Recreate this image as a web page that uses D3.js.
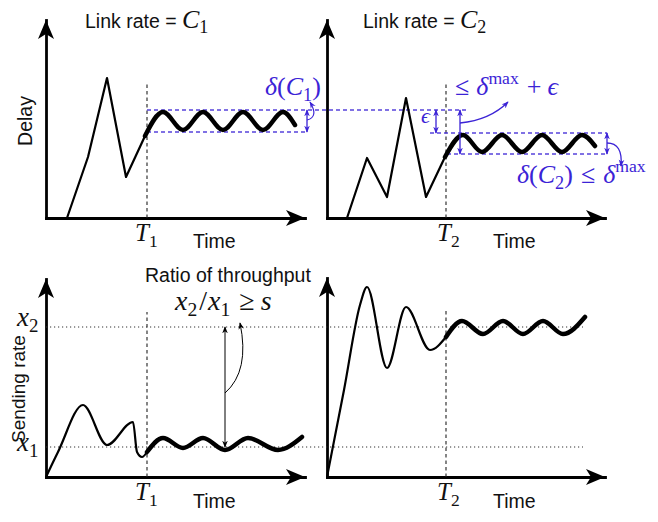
<!DOCTYPE html>
<html><head><meta charset="utf-8">
<script src="https://cdn.jsdelivr.net/npm/d3@7"></script>
<style>body{margin:0;background:#fff}svg{display:block}</style>
</head><body><svg id="c" width="658" height="522"></svg>
<script>
// ---- data (time units, value units) ----
const T1 = 10.1, T2 = 11.9;
const delayC1Transient = [[2.1,0],[4.2,6.1],[6.1,14.0],[8.0,4.1],[9.9,8.2]];
const delayC1Steady = [[9.9,8.2],[11.7,10.6],[13.7,8.8],[15.7,10.6],[17.7,8.8],[19.7,10.6],[21.7,8.8],[23.7,10.6],[24.9,9.3]];
const delayC2Transient = [[2.0,0],[4.0,6.0],[6.0,2.1],[7.9,12.0],[9.9,2.1],[11.8,6.1]];
const delayC2Steady = [[11.8,6.1],[13.6,8.3],[15.5,6.6],[17.5,8.3],[19.5,6.6],[21.5,8.3],[23.5,6.6],[25.5,8.3],[26.8,7.2]];
const rateC1Transient = [[0,0],[1.2,2.5],[3.7,7.2],[6.1,3.2],[8.7,5.5],[9.1,2.5],[9.6,2.0],[10.1,2.5]];
const rateC1Steady = [[10.1,2.5],[11.7,3.9],[13.7,2.9],[15.7,3.9],[17.9,2.7],[20.2,3.9],[23.2,2.7],[25.6,4.0]];
const rateC2Transient = [[0,0],[1.7,8.7],[3.3,17.2],[4.0,19.0],[6.0,10.9],[7.9,17.0],[10.3,12.7],[11.9,14.0]];
const rateC2Steady = [[11.9,14.0],[13.5,15.6],[15.6,14.3],[17.6,15.6],[19.6,14.3],[21.6,15.6],[23.6,14.3],[25.8,16.0]];
const bandC1 = [8.6, 10.8];     // delta(C1) band low/high
const bandC2 = [6.4, 8.5];      // delta(C2) band low/high
const x1Level = 3.0, x2Level = 15.0;
const axisLabels = {x: "Time", yTop: "Delay", yBottom: "Sending rate"};

// ---- layout ----
const BLUE = "#3b23d6";
const SANS = "'Liberation Sans', Arial, sans-serif";
const SERIF = "'Liberation Serif', 'Times New Roman', serif";
const layout = {
  tl: {ox: 46, oy: 218, xEnd: 305, yTip: 20},
  tr: {ox: 327, oy: 218, xEnd: 605, yTip: 20},
  bl: {ox: 46, oy: 477, xEnd: 305, yTip: 279},
  br: {ox: 327, oy: 477, xEnd: 605, yTip: 278}
};
const svg = d3.select("#c");
const defs = svg.append("defs");
function marker(id, color, size) {
  defs.append("marker").attr("id", id).attr("viewBox", "0 0 10 10")
    .attr("refX", 9).attr("refY", 5).attr("markerUnits", "userSpaceOnUse")
    .attr("markerWidth", size).attr("markerHeight", size)
    .attr("orient", "auto-start-reverse")
    .append("path").attr("d", "M0,1 L10,5 L0,9 L3,5 z").attr("fill", color);
}
marker("ab", BLUE, 7);
marker("ak", "#000", 7);

const S = {};
for (const k in layout) {
  const p = layout[k];
  S[k] = {
    x: d3.scaleLinear().domain([0, (p.xEnd - p.ox) / 10]).range([p.ox, p.xEnd]),
    y: d3.scaleLinear().domain([0, (p.oy - p.yTip) / 10]).range([p.oy, p.yTip])
  };
}

// axes
for (const k in layout) {
  const {x, y} = S[k];
  const g = svg.append("g");
  g.append("g").attr("transform", `translate(0,${y(0)})`)
    .call(d3.axisBottom(x).tickValues([]).tickSizeOuter(0));
  g.append("g").attr("transform", `translate(${x(0)},0)`)
    .call(d3.axisLeft(y).tickValues([]).tickSizeOuter(0));
  g.selectAll(".domain").attr("stroke", "#000").attr("stroke-width", 2.8).attr("stroke-linecap", "square");
  const xt = x.range()[1], yt = y.range()[1], X0 = x(0), Y0 = y(0);
  g.append("path").attr("d", `M${xt},${Y0} L${xt-19},${Y0-8} L${xt-14},${Y0} L${xt-19},${Y0+8} Z`).attr("fill", "#000");
  g.append("path").attr("d", `M${X0},${yt} L${X0-8},${yt+19} L${X0},${yt+14} L${X0+8},${yt+19} Z`).attr("fill", "#000");
}

function curve(k, data, type, w) {
  const {x, y} = S[k];
  svg.append("path").datum(data)
    .attr("d", d3.line().x(d => x(d[0])).y(d => y(d[1])).curve(type))
    .attr("fill", "none").attr("stroke", "#000").attr("stroke-width", w)
    .attr("stroke-linejoin", "round").attr("stroke-linecap", "round");
}
function seg(k, t0, v0, t1, v1, attrs) {
  const {x, y} = S[k];
  const l = svg.append("line").attr("x1", x(t0)).attr("y1", y(v0)).attr("x2", x(t1)).attr("y2", y(v1));
  for (const a in attrs) l.attr(a, attrs[a]);
  return l;
}
function qarrow(k, a, c, b, color, mk, w) {
  const {x, y} = S[k];
  const p = d3.path();
  p.moveTo(x(a[0]), y(a[1]));
  p.quadraticCurveTo(x(c[0]), y(c[1]), x(b[0]), y(b[1]));
  svg.append("path").attr("d", p.toString()).attr("fill", "none").attr("stroke", color)
    .attr("stroke-width", w).attr("marker-end", `url(#${mk})`);
}

const dashV = {stroke: "#222", "stroke-width": 1.1, "stroke-dasharray": "3.5,3"};
const dashB = {stroke: BLUE, "stroke-width": 1.3, "stroke-dasharray": "4,3", opacity: 0.85};
const dotK = {stroke: "#333", "stroke-width": 1.1, "stroke-dasharray": "1.2,2.8"};

// convergence verticals
seg("tl", T1, 0, T1, 13.6, dashV);
seg("tr", T2, 0, T2, 13.6, dashV);
seg("bl", T1, 0, T1, 16.5, dashV);
seg("br", T2, 0, T2, 16.9, dashV);

// dotted sending-rate reference lines
seg("bl", 0, x2Level, 53.7, x2Level, dotK);
seg("bl", 0, x1Level, 53.7, x1Level, dotK);

// blue bands
seg("tl", T1, bandC1[1], 42.1, bandC1[1], dashB);
seg("tl", T1, bandC1[0], 26.1, bandC1[0], dashB);
seg("tr", 10.3, bandC2[1], 28.0, bandC2[1], dashB);
seg("tr", 12.0, bandC2[0], 28.0, bandC2[0], dashB);

// curves
curve("tl", delayC1Transient, d3.curveLinear, 2.2);
curve("tl", delayC1Steady, d3.curveMonotoneX, 4.5);
curve("tr", delayC2Transient, d3.curveLinear, 2.2);
curve("tr", delayC2Steady, d3.curveMonotoneX, 4.5);
curve("bl", rateC1Transient, d3.curveMonotoneX, 2.2);
curve("bl", rateC1Steady, d3.curveMonotoneX, 4.5);
curve("br", rateC2Transient, d3.curveMonotoneX, 2.2);
curve("br", rateC2Steady, d3.curveMonotoneX, 4.5);

// blue annotation arrows
const arrB = {stroke: BLUE, "stroke-width": 1.3, "marker-start": "url(#ab)", "marker-end": "url(#ab)"};
seg("tl", 26.1, bandC1[1], 26.1, bandC1[0], arrB);
qarrow("tl", [26.1, 9.8], [27.3, 10.1], [26.4, 11.6], BLUE, "ab", 1.2);
seg("tr", 10.9, bandC1[1], 10.9, bandC2[1], arrB);
seg("tr", 13.3, bandC1[1], 13.3, bandC2[0], arrB);
seg("tr", 28.0, bandC2[1], 28.0, bandC2[0], arrB);
qarrow("tr", [13.3, 9.5], [16.3, 9.8], [18.1, 11.6], BLUE, "ab", 1.3);
qarrow("tr", [28.0, 7.5], [29.6, 7.5], [29.4, 5.2], BLUE, "ab", 1.3);

// throughput ratio arrow
seg("bl", 17.9, x2Level, 17.9, x1Level, {stroke: "#000", "stroke-width": 1, "marker-start": "url(#ak)", "marker-end": "url(#ak)"});
qarrow("bl", [17.9, 8.4], [20.4, 10.6], [19.4, 15.4], "#000", "ak", 1);

// ---- text ----
function plain(x, y, str, size, rot) {
  const t = svg.append("text").attr("font-family", SANS).attr("font-size", size).attr("fill", "#111").text(str);
  if (rot) t.attr("transform", `translate(${x},${y}) rotate(-90)`).attr("text-anchor", "middle");
  else t.attr("x", x).attr("y", y);
  return t;
}
function math(x, y, parts, size, color) {
  const t = svg.append("text").attr("x", x).attr("y", y).attr("font-family", SERIF)
    .attr("font-size", size).attr("fill", color || "#111");
  let cur = 0;
  for (const p of parts) {
    let target = 0, fs = size;
    if (p.sub) { target = size * 0.22; fs = size * 0.7; }
    if (p.sup) { target = -size * 0.42; fs = size * 0.68; }
    const ts = t.append("tspan").attr("dy", target - cur).attr("font-size", fs).text(p.t);
    if (p.i) ts.attr("font-style", "italic");
    if (p.dx) ts.attr("dx", p.dx);
    cur = target;
  }
  return t;
}
function title(x, y, sub) {
  const t = plain(x, y, "Link rate = ", 19.5);
  t.append("tspan").attr("font-family", SERIF).attr("font-style", "italic").attr("font-size", 26).text("C");
  t.append("tspan").attr("font-family", SERIF).attr("font-size", 18).attr("dy", 5).text(sub);
}
title(85, 28, "1");
title(363, 28, "2");
plain(32, 121, axisLabels.yTop, 19.5, true);
plain(25, 389, axisLabels.yBottom, 19, true);
plain(193, 248, axisLabels.x, 19.5);
plain(493, 248, axisLabels.x, 19.5);
plain(193, 508, axisLabels.x, 19.5);
plain(493, 508, axisLabels.x, 19.5);
plain(145, 282, "Ratio of throughput", 19.5);

math(135, 241, [{t: "T", i: true}, {t: "1", sub: true}], 25);
math(437, 241, [{t: "T", i: true}, {t: "2", sub: true}], 25);
math(135, 500, [{t: "T", i: true}, {t: "1", sub: true}], 25);
math(437, 500, [{t: "T", i: true}, {t: "2", sub: true}], 25);
math(17, 326, [{t: "x", i: true}, {t: "2", sub: true}], 27);
math(17, 451, [{t: "x", i: true}, {t: "1", sub: true}], 27);
math(175, 310, [{t: "x", i: true}, {t: "2", sub: true}, {t: "/", dx: 2}, {t: "x", i: true, dx: 1}, {t: "1", sub: true},
  {t: "≥", dx: 9}, {t: "s", i: true, dx: 6}], 28);

math(265, 95, [{t: "δ", i: true}, {t: "("}, {t: "C", i: true}, {t: "1", sub: true}, {t: ")"}], 26, BLUE);
math(455, 95, [{t: "≤", }, {t: "δ", i: true, dx: 7}, {t: "max", sup: true}, {t: "+", dx: 8}, {t: "ϵ", i: true, dx: 6}], 26, BLUE);
math(517, 183, [{t: "δ", i: true}, {t: "("}, {t: "C", i: true}, {t: "2", sub: true}, {t: ")"}, {t: "≤", dx: 8},
  {t: "δ", i: true, dx: 8}, {t: "max", sup: true}], 26, BLUE);
math(421, 123, [{t: "ϵ", i: true}], 22, BLUE);
</script></body></html>
